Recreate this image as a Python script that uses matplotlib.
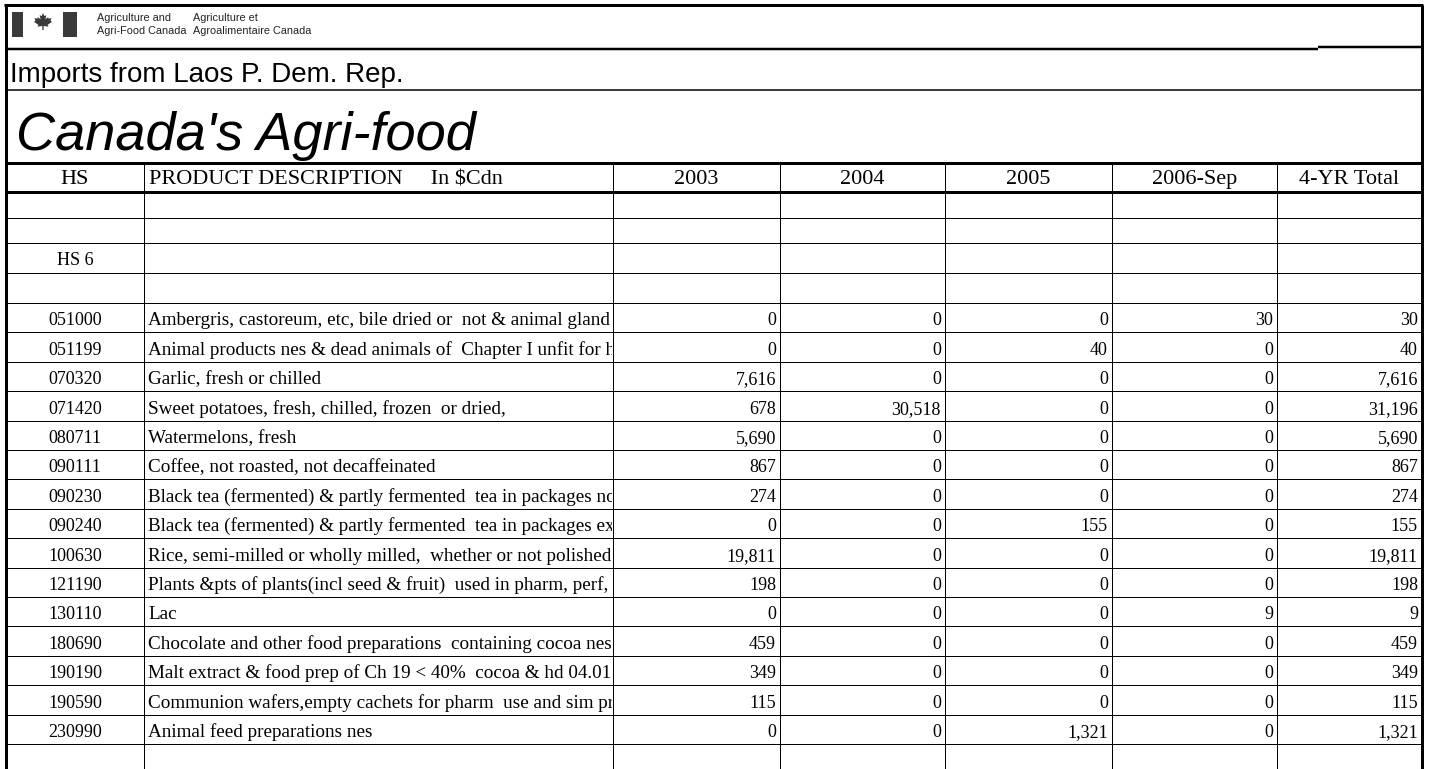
import matplotlib
matplotlib.use("Agg")
import matplotlib.pyplot as plt
from matplotlib.patches import Rectangle, Polygon

# ---------------- data ----------------
hs_codes = ["051000", "051199", "070320", "071420", "080711", "090111", "090230",
            "090240", "100630", "121190", "130110", "180690", "190190", "190590", "230990"]
descriptions = [
    "Ambergris, castoreum, etc, bile dried or  not & animal gland",
    "Animal products nes & dead animals of  Chapter I unfit for h",
    "Garlic, fresh or chilled",
    "Sweet potatoes, fresh, chilled, frozen  or dried,",
    "Watermelons, fresh",
    "Coffee, not roasted, not decaffeinated",
    "Black tea (fermented) & partly fermented  tea in packages no",
    "Black tea (fermented) & partly fermented  tea in packages ex",
    "Rice, semi-milled or wholly milled,  whether or not polished",
    "Plants &pts of plants(incl seed & fruit)  used in pharm, perf,",
    "Lac",
    "Chocolate and other food preparations  containing cocoa nes",
    "Malt extract & food prep of Ch 19 < 40%  cocoa & hd 04.01",
    "Communion wafers,empty cachets for pharm  use and sim pr",
    "Animal feed preparations nes",
]
v2003 = [0, 0, 7616, 678, 5690, 867, 274, 0, 19811, 198, 0, 459, 349, 115, 0]
v2004 = [0, 0, 0, 30518, 0, 0, 0, 0, 0, 0, 0, 0, 0, 0, 0]
v2005 = [0, 40, 0, 0, 0, 0, 0, 155, 0, 0, 0, 0, 0, 0, 1321]
v2006sep = [30, 0, 0, 0, 0, 0, 0, 0, 0, 0, 9, 0, 0, 0, 0]
total4yr = [30, 40, 7616, 31196, 5690, 867, 274, 155, 19811, 198, 9, 459, 349, 115, 1321]
col_headers = ["2003", "2004", "2005", "2006-Sep", "4-YR Total"]

title1 = "Imports from Laos P. Dem. Rep."
title2 = "Canada's Agri-food"

# ---------------- layout ----------------
W, H = 1429, 769
fig = plt.figure(figsize=(W / 100, H / 100), dpi=100)
ax = fig.add_axes([0, 0, 1, 1])
ax.set_xlim(0, W)
ax.set_ylim(H, 0)
ax.axis("off")

PX = 0.72  # 1 pixel in points
SERIF = ["Liberation Serif", "DejaVu Serif"]
SANS = ["Liberation Sans", "DejaVu Sans"]

col_x = [6, 144, 613, 780, 945, 1112, 1277, 1422]
y_top = 5
y_logo = 48
y_t1 = 90
y_hdr_top = 163
y_hdr_bot = 192
blank_lines = [218, 243, 273, 303]
data_top = 303
row_h = 29.4
n = len(hs_codes)
row_lines = [data_top + row_h * (k + 1) for k in range(n)]

def hline(y, x0, x1, lw):
    ax.plot([x0, x1], [y, y], color="black", lw=lw * PX, solid_capstyle="butt")

def vline(x, y0, y1, lw):
    ax.plot([x, x], [y0, y1], color="black", lw=lw * PX, solid_capstyle="butt")

# outer border
hline(y_top, col_x[0] - 1.5, col_x[-1] + 1.5, 3)
vline(col_x[0], y_top, H, 3)
vline(col_x[-1], y_top, H, 3)
# logo row line
hline(y_logo + 1, col_x[0], 1318, 2.5)
hline(y_logo - 1, 1318, col_x[-1], 2.5)
hline(y_t1, col_x[0], col_x[-1], 1.5)
hline(y_hdr_top, col_x[0], col_x[-1], 3)
hline(y_hdr_bot, col_x[0], col_x[-1], 3)
for y in blank_lines + row_lines:
    hline(y, col_x[0], col_x[-1], 1)
for x in col_x[1:-1]:
    vline(x, y_hdr_top, H, 1)

# ---------------- logo ----------------
logo_c = "#3a3a3a"
ax.add_patch(Rectangle((12, 12), 11, 25, color=logo_c, lw=0))
ax.add_patch(Rectangle((63, 12), 14, 25, color=logo_c, lw=0))
leaf = [(0, 1), (0.12, 0.72), (0.3, 0.8), (0.22, 0.42), (0.46, 0.62), (0.52, 0.48),
        (0.78, 0.55), (0.68, 0.3), (0.82, 0.2), (0.42, -0.08), (0.5, -0.24), (0.06, -0.18),
        (0.06, -0.55), (-0.06, -0.55), (-0.06, -0.18), (-0.5, -0.24), (-0.42, -0.08),
        (-0.82, 0.2), (-0.68, 0.3), (-0.78, 0.55), (-0.52, 0.48), (-0.46, 0.62),
        (-0.22, 0.42), (-0.3, 0.8), (-0.12, 0.72)]
cx, cy, s = 43, 24, 11
ax.add_patch(Polygon([(cx + s * px, cy - s * py) for px, py in leaf], closed=True,
                     color=logo_c, lw=0))
LF = dict(fontsize=7.8, family=SANS, va="center", color="#222222")
ax.text(97, 18, "Agriculture and", **LF)
ax.text(97, 31, "Agri-Food Canada", **LF)
ax.text(193, 18, "Agriculture et", **LF)
ax.text(193, 31, "Agroalimentaire Canada", **LF)

# ---------------- titles ----------------
ax.text(10, 82, title1, fontsize=20, family=SANS, va="baseline")
ax.text(16, 150, title2, fontsize=39, family=SANS, style="italic", va="baseline")

# ---------------- header ----------------
hb = y_hdr_bot - 8
HF = 16
ax.text((col_x[0] + col_x[1]) / 2, hb, "HS", fontsize=HF, family=SERIF, ha="center", va="baseline")
ax.text(149, hb, "PRODUCT DESCRIPTION     In $Cdn", fontsize=HF, family=SERIF, ha="left", va="baseline")
for i, h in enumerate(col_headers):
    ax.text((col_x[i + 2] + col_x[i + 3]) / 2, hb, h, fontsize=HF, family=SERIF,
            ha="center", va="baseline")

DF = 13
ax.text((col_x[0] + col_x[1]) / 2, blank_lines[2] - 8, "HS 6", fontsize=DF, family=SERIF,
        ha="center", va="baseline")

# ---------------- data rows ----------------
cols = [v2003, v2004, v2005, v2006sep, total4yr]
for k in range(n):
    yb = data_top + row_h * (k + 1) - 7
    ax.text((col_x[0] + col_x[1]) / 2, yb, hs_codes[k], fontsize=DF, family=SERIF,
            ha="center", va="baseline")
    t = ax.text(148, yb, descriptions[k], fontsize=13.8, family=SERIF, ha="left", va="baseline")
    clip = Rectangle((col_x[1], data_top + row_h * k), col_x[2] - col_x[1] - 1, row_h,
                     transform=ax.transData)
    t.set_clip_on(True)
    t.set_clip_path(clip)
    for j, vals in enumerate(cols):
        ax.text(col_x[j + 3] - 4, yb, f"{vals[k]:,}", fontsize=DF, family=SERIF,
                ha="right", va="baseline")

fig.savefig("out.png", dpi=100)
